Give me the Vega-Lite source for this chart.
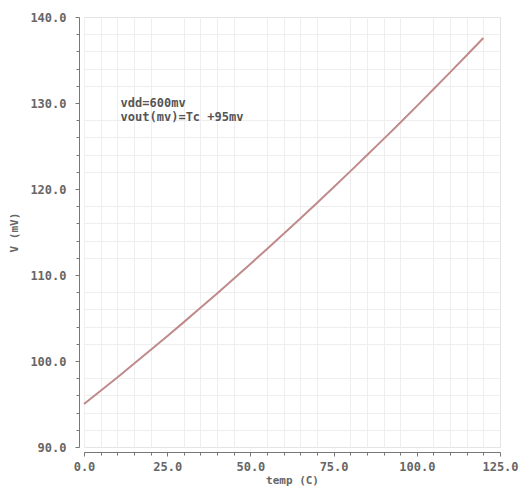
{
  "$schema": "https://vega.github.io/schema/vega-lite/v6.json",
  "width": 416,
  "height": 430,
  "autosize": "none",
  "padding": {"left": 84, "top": 17, "right": 19, "bottom": 49},
  "background": "white",
  "config": {
    "view": {"stroke": "#e4e4e4"},
    "axis": {"labelFont": "DejaVu Sans Mono", "titleFont": "DejaVu Sans Mono", "labelColor": "#666", "titleColor": "#666", "labelFontWeight": "bold", "titleFontWeight": "bold", "labelFontSize": 12, "titleFontSize": 11, "domainColor": "#777", "tickColor": "#777"}
  },
  "data": {"values": [
    {"temp": 0, "v": 95.00}, {"temp": 5, "v": 96.54}, {"temp": 10, "v": 98.09}, {"temp": 15, "v": 99.67},
    {"temp": 20, "v": 101.27}, {"temp": 25, "v": 102.88}, {"temp": 30, "v": 104.52}, {"temp": 35, "v": 106.18},
    {"temp": 40, "v": 107.86}, {"temp": 45, "v": 109.56}, {"temp": 50, "v": 111.29}, {"temp": 55, "v": 113.03},
    {"temp": 60, "v": 114.79}, {"temp": 65, "v": 116.57}, {"temp": 70, "v": 118.38}, {"temp": 75, "v": 120.20},
    {"temp": 80, "v": 122.05}, {"temp": 85, "v": 123.92}, {"temp": 90, "v": 125.80}, {"temp": 95, "v": 127.71},
    {"temp": 100, "v": 129.64}, {"temp": 105, "v": 131.59}, {"temp": 110, "v": 133.56}, {"temp": 115, "v": 135.55},
    {"temp": 120, "v": 137.56}
  ]},
  "layer": [
    {
      "mark": {"type": "line", "opacity": 0},
      "encoding": {
        "x": {"field": "temp", "type": "quantitative", "scale": {"domain": [0, 125], "nice": false},
          "axis": {"orient": "bottom", "values": [0,5,10,15,20,30,35,40,45,55,60,65,70,80,85,90,95,105,110,115,120], "labels": false, "title": null, "domain": false, "gridColor": "#eeeeee", "tickSize": 3, "offset": 5}},
        "y": {"field": "v", "type": "quantitative", "scale": {"domain": [90, 140], "nice": false, "zero": false},
          "axis": {"orient": "left", "values": [92,94,96,98,102,104,106,108,112,114,116,118,122,124,126,128,132,134,136,138], "labels": false, "title": null, "domain": false, "gridColor": "#eeeeee", "tickSize": 3, "offset": 5}}
      }
    },
    {
      "mark": {"type": "line", "color": "#c08a8a", "strokeWidth": 2},
      "encoding": {
        "x": {"field": "temp", "type": "quantitative", "scale": {"domain": [0, 125], "nice": false},
          "axis": {"orient": "bottom", "values": [0,25,50,75,100,125], "format": ".1f", "title": "temp (C)", "gridColor": "#dddddd", "tickSize": 4, "offset": 5, "labelPadding": 5, "titlePadding": 2, "labelFlush": false}},
        "y": {"field": "v", "type": "quantitative", "scale": {"domain": [90, 140], "nice": false, "zero": false},
          "axis": {"orient": "left", "values": [90,100,110,120,130,140], "format": ".1f", "title": "V (mV)", "gridColor": "#dddddd", "tickSize": 4, "offset": 5, "labelPadding": 9, "titlePadding": 10}}
      }
    },
    {
      "data": {"values": [{"label": "note"}]},
      "mark": {"type": "text", "align": "left", "baseline": "middle", "font": "DejaVu Sans Mono", "fontSize": 12, "fontWeight": "bold", "color": "#555", "lineHeight": 14, "text": ["vdd=600mv", "vout(mv)=Tc +95mv"]},
      "encoding": {
        "x": {"datum": 11, "type": "quantitative", "axis": null},
        "y": {"datum": 130.05, "type": "quantitative", "axis": null}
      }
    }
  ],
  "resolve": {"axis": {"x": "independent", "y": "independent"}}
}
